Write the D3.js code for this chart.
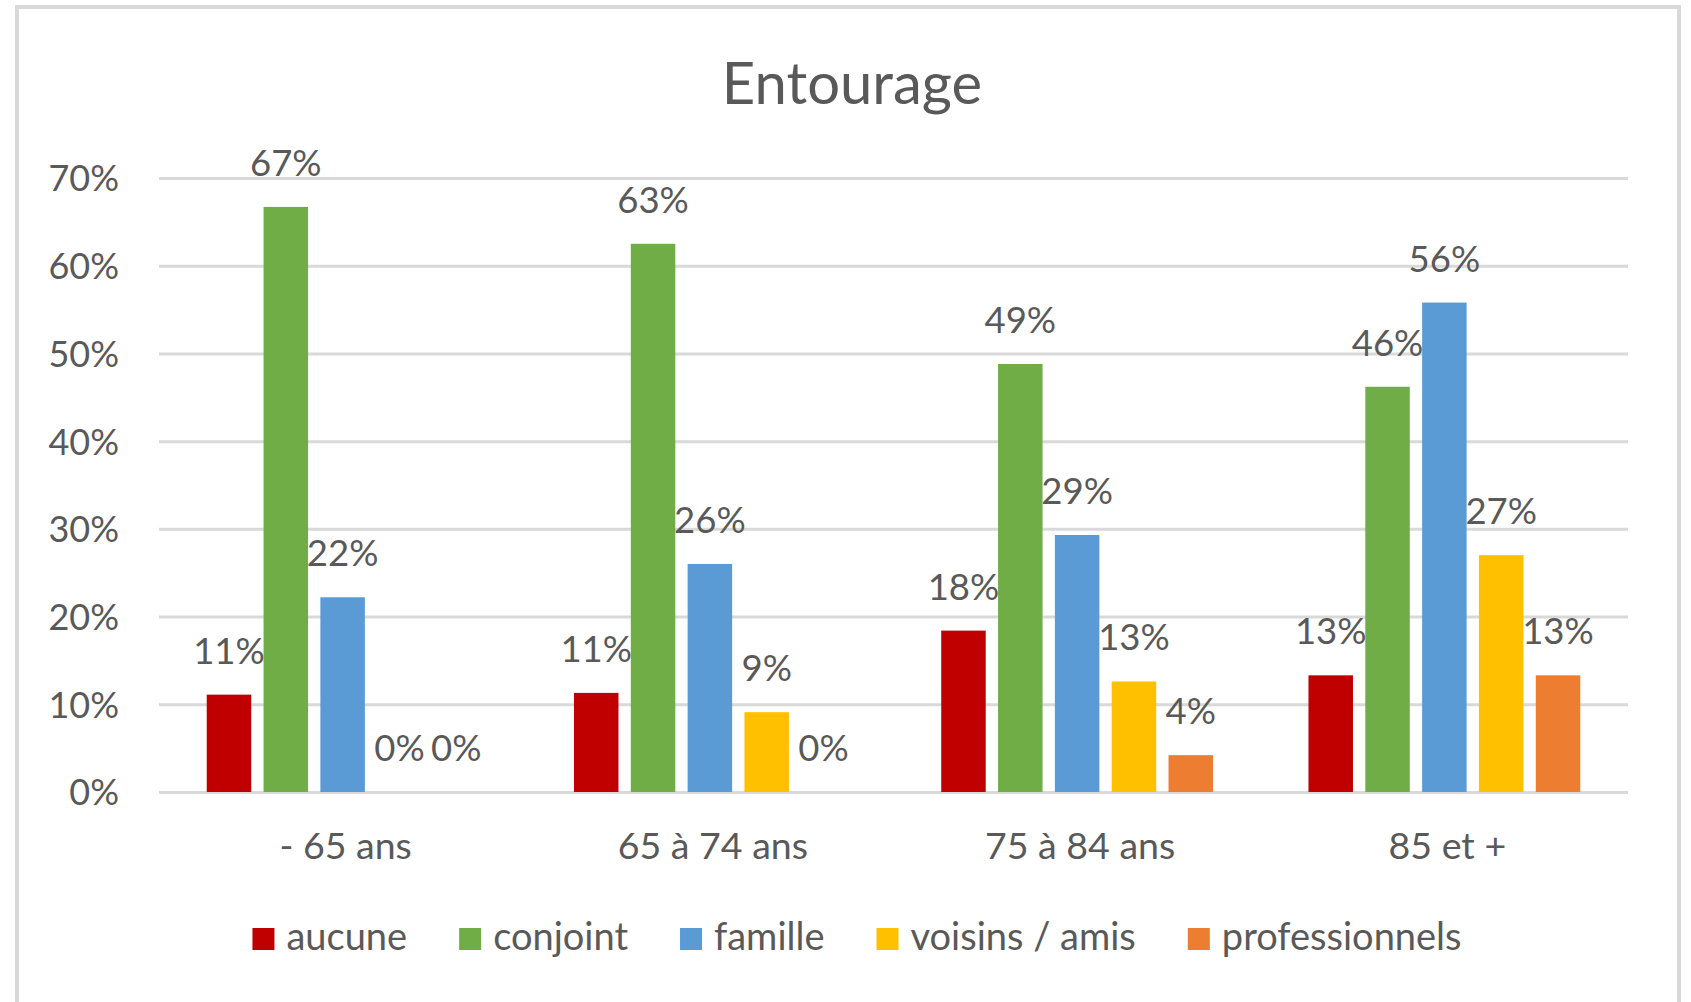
<!DOCTYPE html>
<html>
<head>
<meta charset="utf-8">
<script src="https://cdn.jsdelivr.net/npm/d3@7"></script>
<style>
  body { margin: 0; background: #fff; }
  svg text { font-family: Lato, "Open Sans", sans-serif; fill: #595959; }
</style>
</head>
<body>
<svg id="chart"></svg>
<script>
const width = 1691, height = 1002;
const margin = {top: 178, right: 63, bottom: 210, left: 159};

// data
const categories = ['- 65 ans', '65 à 74 ans', '75 à 84 ans', '85 et +'];
const series = ['aucune', 'conjoint', 'famille', 'voisins / amis', 'professionnels'];
const aucune = [0.111, 0.113, 0.184, 0.133];
const conjoint = [0.667, 0.625, 0.488, 0.462];
const famille = [0.222, 0.260, 0.293, 0.558];
const voisins = [0, 0.091, 0.126, 0.270];
const professionnels = [0, 0, 0.042, 0.133];
const yTicks = [0, 0.1, 0.2, 0.3, 0.4, 0.5, 0.6, 0.7];

const values = [aucune, conjoint, famille, voisins, professionnels];
const colors = ['#c00000', '#70ad47', '#5b9bd5', '#ffc000', '#ed7d31'];

const rows = categories.flatMap((c, i) => series.map((s, j) => ({cat: c, serie: s, value: values[j][i]})));

const svg = d3.select('#chart')
    .attr('width', width)
    .attr('height', height);

// chart frame
svg.append('rect')
    .attr('x', 17).attr('y', 7)
    .attr('width', 1662).attr('height', 1010)
    .attr('fill', '#fff')
    .attr('stroke', '#d9d9d9')
    .attr('stroke-width', 4);

const innerW = width - margin.left - margin.right;
const innerH = 792 - margin.top;

const g = svg.append('g')
    .attr('transform', `translate(${margin.left},${margin.top})`);

const x = d3.scaleBand()
    .domain(categories)
    .range([0, innerW])
    .padding(0);

const xSub = d3.scaleBand()
    .domain(series)
    .range([0, x.bandwidth()])
    .paddingInner(0.217)
    .paddingOuter(0.84);

const y = d3.scaleLinear()
    .domain([0, 0.7])
    .range([innerH, 0]);

const color = d3.scaleOrdinal().domain(series).range(colors);
const pct = d3.format('.0%');

// y axis + gridlines
const yAxis = g.append('g')
    .call(d3.axisLeft(y).tickValues(yTicks).tickFormat(pct).tickSize(-innerW).tickPadding(40));
yAxis.select('.domain').remove();
yAxis.selectAll('.tick line').attr('stroke', '#d9d9d9').attr('stroke-width', 3);
yAxis.selectAll('.tick text')
    .attr('font-size', 36)
    .attr('dy', '0.36em');

// x axis
const xAxis = g.append('g')
    .attr('transform', `translate(0,${innerH})`)
    .call(d3.axisBottom(x).tickSize(0).tickPadding(40));
xAxis.select('.domain').remove();
xAxis.selectAll('.tick text').attr('font-size', 37.5).attr('dx', 3);

// bars
g.selectAll('.bar')
    .data(rows)
    .join('rect')
    .attr('class', 'bar')
    .attr('x', d => x(d.cat) + xSub(d.serie))
    .attr('y', d => y(d.value))
    .attr('width', xSub.bandwidth())
    .attr('height', d => innerH - y(d.value))
    .attr('fill', d => color(d.serie));

// data labels
g.selectAll('.label')
    .data(rows)
    .join('text')
    .attr('class', 'label')
    .attr('x', d => x(d.cat) + xSub(d.serie) + xSub.bandwidth() / 2)
    .attr('y', d => y(d.value) - 31)
    .attr('text-anchor', 'middle')
    .attr('font-size', 36.5)
    .text(d => pct(d.value));

// title
svg.append('text')
    .attr('x', 852)
    .attr('y', 104)
    .attr('text-anchor', 'middle')
    .attr('font-size', 58)
    .text('Entourage');

// legend
const legend = svg.append('g').attr('transform', 'translate(0,950)');
const items = legend.selectAll('.item')
    .data(series)
    .join('g')
    .attr('class', 'item');
items.append('rect')
    .attr('y', -22)
    .attr('width', 22)
    .attr('height', 22)
    .attr('fill', d => color(d));
items.append('text')
    .attr('x', 34)
    .attr('font-size', 38)
    .text(d => d);

const gap = 52;
const widths = [];
items.each(function() {
    const w = d3.select(this).select('text').node().getComputedTextLength();
    widths.push(34 + w);
});
const total = d3.sum(widths) + gap * (widths.length - 1);
let offset = 857 - total / 2;
items.attr('transform', (d, i) => {
    const t = `translate(${offset},0)`;
    offset += widths[i] + gap;
    return t;
});
</script>
</body>
</html>
